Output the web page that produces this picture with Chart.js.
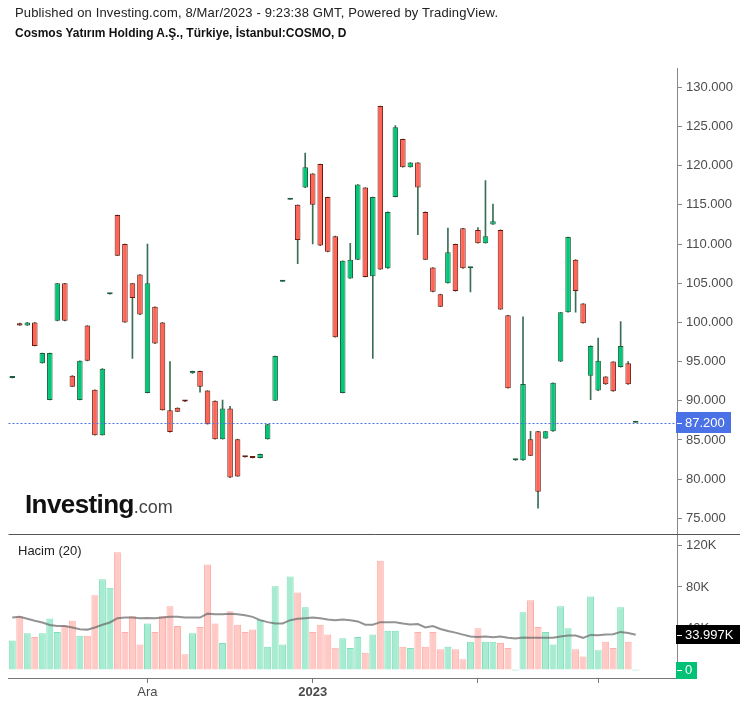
<!DOCTYPE html>
<html><head><meta charset="utf-8">
<script src="https://cdn.jsdelivr.net/npm/chart.js@4.4.1/dist/chart.umd.min.js"></script>
<style>
html,body{margin:0;padding:0;background:#fff;}
#wrap{position:relative;width:747px;height:707px;overflow:hidden;font-family:"Liberation Sans",Arial,sans-serif;}
#c{position:absolute;left:0;top:0;}
.t1{position:absolute;left:15px;top:6px;font-size:13px;letter-spacing:0.15px;line-height:14px;color:#222;white-space:nowrap;}
.t2{position:absolute;left:15px;top:26px;font-size:12px;line-height:14px;font-weight:bold;color:#111;white-space:nowrap;}
.logo{position:absolute;left:25px;top:489px;white-space:nowrap;line-height:30px;}
.logo .inv{font-size:26px;font-weight:bold;color:#111;letter-spacing:-0.6px;}
.logo .com{font-size:18px;color:#444;}
.hacim{position:absolute;left:18px;top:543px;font-size:13px;line-height:15px;color:#222;white-space:nowrap;}
</style></head>
<body>
<div id="wrap">
<canvas id="c" width="747" height="707"></canvas>
<div class="t1">Published on Investing.com, 8/Mar/2023 - 9:23:38 GMT, Powered by TradingView.</div>
<div class="t2">Cosmos Yatırım Holding A.Ş., Türkiye, İstanbul:COSMO, D</div>
<div class="logo"><span class="inv">Investing</span><span class="com">.com</span></div>
<div class="hacim">Hacim (20)</div>
</div>
<script>
// ---- categories (trading days) + empty future slots on the right ----
const categories = [
'2022-11-07','2022-11-08','2022-11-09','2022-11-10','2022-11-11','2022-11-14','2022-11-15','2022-11-16','2022-11-17','2022-11-18',
'2022-11-21','2022-11-22','2022-11-23','2022-11-24','2022-11-25','2022-11-28','2022-11-29','2022-11-30',
'2022-12-01','2022-12-02','2022-12-05','2022-12-06','2022-12-07','2022-12-08','2022-12-09','2022-12-12','2022-12-13','2022-12-14',
'2022-12-15','2022-12-16','2022-12-19','2022-12-20','2022-12-21','2022-12-22','2022-12-23','2022-12-26','2022-12-27','2022-12-28',
'2022-12-29','2022-12-30',
'2023-01-02','2023-01-03','2023-01-04','2023-01-05','2023-01-06','2023-01-09','2023-01-10','2023-01-11','2023-01-12','2023-01-13',
'2023-01-16','2023-01-17','2023-01-18','2023-01-19','2023-01-20','2023-01-23','2023-01-24','2023-01-25','2023-01-26','2023-01-27',
'2023-01-30','2023-01-31',
'2023-02-01','2023-02-02','2023-02-03','2023-02-06','2023-02-07','2023-02-08','2023-02-15','2023-02-16','2023-02-17','2023-02-20',
'2023-02-21','2023-02-22','2023-02-23','2023-02-24','2023-02-27','2023-02-28',
'2023-03-01','2023-03-02','2023-03-03','2023-03-06','2023-03-07','2023-03-08'
];
const futureSlots = ['2023-03-09','2023-03-10','2023-03-13','2023-03-14','2023-03-15'];

const opens = [92.9,99.9,99.6,100.0,94.8,90.1,100.2,105.0,93.2,90.1,99.6,91.4,85.6,103.6,113.7,110.0,105.0,106.1,91.0,102.0,
100.0,88.8,89.1,89.95,93.5,93.8,91.3,90.0,85.1,89.0,85.1,82.85,82.75,82.7,85.1,90.0,105.2,115.65,115.0,117.2,
119.0,120.2,116.0,111.0,91.0,105.6,108.0,117.2,105.9,127.6,106.9,116.0,123.4,119.8,120.4,114.1,107.0,103.6,105.0,110.0,
112.0,106.9,111.8,110.1,112.5,111.8,100.9,82.4,82.4,85.1,86.1,85.2,86.1,95.0,101.3,108.0,102.4,93.2,91.3,93.1,
95.0,94.3,94.8,87.2];
const highs = [92.9,99.9,100.0,100.0,96.1,96.1,105.0,105.0,93.2,95.1,99.6,91.4,94.1,103.6,113.7,110.0,105.0,106.1,110.0,102.0,
100.0,95.0,89.1,89.95,93.8,93.8,91.3,90.0,90.1,89.3,85.1,82.85,82.75,83.2,87.0,95.7,105.2,115.65,115.0,121.6,
119.0,120.2,116.0,111.0,107.85,110.1,117.6,117.2,116.0,127.6,114.1,125.1,123.4,120.4,120.4,114.1,107.0,103.6,112.05,110.0,
112.0,106.9,112.1,118.1,115.1,111.8,100.9,82.4,100.7,86.1,86.1,86.1,92.3,101.3,110.9,108.0,102.4,97.0,98.0,93.1,
95.0,100.1,95.0,87.2];
const lows = [92.9,99.6,99.6,97.0,94.8,90.1,100.2,100.2,91.8,90.1,95.1,85.6,85.6,103.6,108.5,100.0,95.4,101.0,91.0,97.3,
88.8,86.0,88.6,89.9,93.5,91.1,87.0,85.1,85.1,80.2,80.35,82.8,82.7,82.7,85.1,90.0,105.2,115.65,107.5,117.2,
110.0,109.8,109.0,98.1,91.0,105.6,108.0,105.8,95.4,106.75,106.9,116.0,119.8,119.8,111.2,108.0,103.9,102.0,105.0,104.0,
106.9,103.9,110.1,110.1,112.5,101.65,91.6,82.4,82.4,83.0,76.3,85.2,86.1,95.0,101.3,101.3,99.9,90.15,91.3,92.1,
91.2,94.3,92.1,87.2];
const closes = [92.9,99.6,100.0,97.0,96.1,96.1,105.0,100.2,91.8,95.1,95.1,85.6,94.1,103.6,108.5,100.0,103.1,101.0,105.0,97.3,
88.8,86.0,88.6,89.9,93.8,91.8,87.0,85.1,89.0,80.2,80.35,82.8,82.7,83.2,87.0,95.7,105.2,115.65,110.5,119.8,
115.0,109.8,109.0,98.1,107.85,108.0,117.6,105.8,116.0,106.75,114.1,124.9,119.8,120.4,117.2,108.0,103.9,102.0,108.95,104.0,
106.9,106.9,110.1,111.0,112.9,101.65,91.6,82.4,92.15,83.0,78.4,86.1,92.3,101.3,110.9,104.0,99.9,97.0,95.1,92.1,
91.2,97.0,92.1,87.2];
const volumes = [28400,51800,35400,31900,35400,49600,36700,42400,47400,32900,32900,72000,87500,79300,113400,36700,51800,24600,44900,36700,
51800,61300,42400,15200,35400,41400,101700,44900,25900,56600,43600,36700,38900,48300,22400,80600,24600,90000,74600,60400,
36700,43600,34100,21500,30600,21200,31900,16700,34100,105200,37900,37900,22400,21200,36700,22400,36700,19900,22400,19900,
10400,27200,40100,27200,27200,25900,21200,0,55600,67300,41400,36700,24600,61300,40100,19900,13000,70800,19000,27200,
21200,60400,27200,0];
const volumeMA20 = [50500,51200,49300,47400,45800,43300,42400,42400,41000,39200,38900,41000,43600,45800,49900,50500,50500,49900,50200,49900,
50500,51200,51200,50500,50500,50500,54300,53700,53700,54300,53700,52700,51200,48000,46100,44900,44900,48000,49300,49900,
50500,49900,48700,48000,48700,48000,46800,43600,43600,46100,46100,46100,44900,43900,44200,41000,42400,39500,37600,36000,
34100,32200,31900,32200,31600,32200,31000,30300,31300,31000,31000,31000,31000,32200,33200,33200,31000,33800,33500,34100,
34400,36700,35700,33997];

const priceTicks = [75,80,85,90,95,100,105,110,115,120,125,130];
const volumeTicks = [0,40000,80000,120000];
const xTickLabels = {'2022-12-01':'Ara','2023-01-02':'2023','2023-02-01':'','2023-03-01':''};

// ---- styling ----
const FONT = "'Liberation Sans', Arial, sans-serif";
const UP = '#00c878', UP_B = '#1d5c3d', DN = '#ff6455', DN_B = '#6b1a12';
const WICK = '#3a6f55';
const VUP = '#a7ecd2', VUP_B = '#7fdfb6', VDN = '#ffc9c5', VDN_B = '#ffaea8';

const allLabels = categories.concat(futureSlots);
const isUp = closes.map((c,i)=>c>=opens[i]);
const bodies = opens.map((o,i)=>[o, closes[i]]);
const wicks = highs.map((h,i)=>[lows[i], h]);
const hasTick = (i)=> allLabels[i] in xTickLabels;

const overlay = {
  id:'overlay',
  afterDatasetsDraw(chart){
    const {ctx, chartArea:a} = chart;
    const yp = chart.scales.yPrice;
    const last = closes[closes.length-1];
    const y = Math.round(yp.getPixelForValue(last))+0.5;
    ctx.save();
    ctx.strokeStyle = '#4a72e6'; ctx.lineWidth = 1; ctx.setLineDash([2,2]);
    ctx.beginPath(); ctx.moveTo(a.left, y); ctx.lineTo(a.right, y); ctx.stroke();
    ctx.restore();
  },
  afterDraw(chart){
    const {ctx, chartArea:a} = chart;
    const yp = chart.scales.yPrice, yv = chart.scales.yVol;
    ctx.save();
    const sy = Math.round(yv.top)+0.5;
    ctx.strokeStyle = '#555'; ctx.lineWidth = 1;
    ctx.beginPath(); ctx.moveTo(a.left, sy); ctx.lineTo(740, sy); ctx.stroke();
    const box = (v, scale, txt, bg, w, h) => {
      const y = scale.getPixelForValue(v);
      ctx.fillStyle = bg;
      ctx.fillRect(a.right-1, Math.round(y - h/2), w, h);
      ctx.strokeStyle = '#fff'; ctx.lineWidth = 1;
      ctx.beginPath(); ctx.moveTo(a.right, Math.round(y)+0.5); ctx.lineTo(a.right+5, Math.round(y)+0.5); ctx.stroke();
      ctx.fillStyle = '#fff'; ctx.font = '13px ' + FONT; ctx.textBaseline = 'middle'; ctx.textAlign='left';
      ctx.fillText(txt, a.right+8, y+0.5);
    };
    const lastC = closes[closes.length-1];
    box(lastC, yp, lastC.toFixed(3), '#4a72e6', 55, 21);
    const lastMA = volumeMA20[volumeMA20.length-1];
    box(lastMA, yv, (lastMA/1000).toFixed(3)+'K', '#000', 64, 19);
    const lastV = volumes[volumes.length-1];
    box(lastV, yv, lastV===0?'0':(lastV/1000).toFixed(0)+'K', '#00c176', 21, 17);
    ctx.restore();
  }
};

new Chart(document.getElementById('c'), {
  type:'bar',
  data:{
    labels: allLabels,
    datasets:[
      {type:'line', label:'Hacim MA', data: volumeMA20, yAxisID:'yVol', borderColor:'rgba(105,105,105,0.72)', borderWidth:2, pointRadius:0, tension:0, order:0},
      {type:'bar', label:'body', data: bodies, yAxisID:'yPrice', grouped:false,
        backgroundColor: isUp.map(u=>u?UP:DN), borderColor: isUp.map(u=>u?UP_B:DN_B), borderWidth:1, borderSkipped:false,
        barPercentage:0.74, categoryPercentage:1, minBarLength:2, order:1},
      {type:'bar', label:'wick', data: wicks, yAxisID:'yPrice', grouped:false,
        backgroundColor: WICK, barThickness:1, order:2},
      {type:'bar', label:'Hacim', data: volumes, yAxisID:'yVol', grouped:false,
        backgroundColor: isUp.map(u=>u?VUP:VDN), borderColor: isUp.map(u=>u?VUP_B:VDN_B), borderWidth:1,
        barPercentage:0.93, categoryPercentage:1, minBarLength:1, order:3}
    ]
  },
  options:{
    responsive:false, animation:false,
    layout:{padding:{left:8.5, top:68, right:0, bottom:0}},
    plugins:{legend:{display:false}, tooltip:{enabled:false}},
    scales:{
      x:{
        type:'category', offset:true,
        grid:{display:true, offset:false, drawOnChartArea:false, drawTicks:true, tickLength:5,
          color:'rgba(0,0,0,0)', tickColor:(c)=> hasTick(c.index) ? '#777' : 'rgba(0,0,0,0)'},
        border:{display:true, color:'#777'},
        ticks:{autoSkip:false, maxRotation:0, padding:2, color:'#4a4a4a',
          font:(c)=>({family:FONT, size:13, weight:(c.tick && c.tick.label==='2023')?'bold':'normal'}),
          callback:(v)=> hasTick(v) ? xTickLabels[allLabels[v]] : ''},
        afterFit:(s)=>{s.height = 29;}
      },
      yPrice:{
        type:'linear', position:'right', stack:'panes', stackWeight:466,
        min:73.0, max:132.46,
        afterBuildTicks:(s)=>{s.ticks = priceTicks.map(v=>({value:v}));},
        ticks:{padding:4, color:'#4d4d4d', font:{family:FONT, size:13}, callback:(v)=>Number(v).toFixed(3)},
        grid:{drawOnChartArea:false, drawTicks:true, tickLength:5, color:'#888'},
        border:{display:true, color:'#888'},
        afterFit:(s)=>{s.width = 70;}
      },
      yVol:{
        type:'linear', position:'right', stack:'panes', stackWeight:144,
        min:-7700, max:131000,
        afterBuildTicks:(s)=>{s.ticks = volumeTicks.map(v=>({value:v}));},
        ticks:{padding:4, color:'#4d4d4d', font:{family:FONT, size:13}, callback:(v)=> v===0?'0':(v/1000)+'K'},
        grid:{drawOnChartArea:false, drawTicks:true, tickLength:5, color:'#888'},
        border:{display:true, color:'#888'},
        afterFit:(s)=>{s.width = 70;}
      }
    }
  },
  plugins:[overlay]
});
</script>
</body></html>
